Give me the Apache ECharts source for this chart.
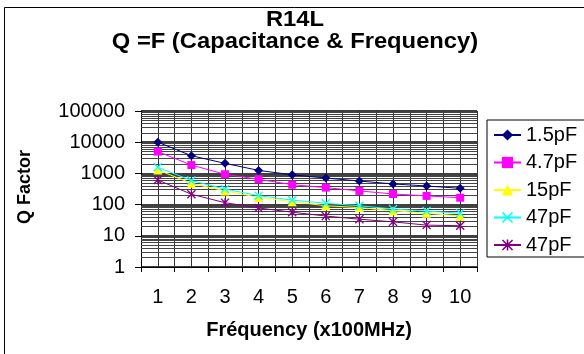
<!DOCTYPE html>
<html>
<head>
<meta charset="utf-8">
<script src="https://cdn.jsdelivr.net/npm/echarts@6/dist/echarts.min.js"></script>
<style>html,body{margin:0;padding:0;background:#fff}#c{width:584px;height:354px}</style>
</head>
<body>
<div id="c"></div>
<script>
const categories = ['1','2','3','4','5','6','7','8','9','10'];
const s15pF  = [10000, 3700, 2100, 1250, 900, 710, 570, 460, 395, 333];
const s47pF_a = [5000, 1850, 940, 650, 435, 350, 275, 219, 190, 166];
const s15  = [1290, 480, 275, 170, 124, 92, 80, 64, 53, 43];
const s47c = [1580, 590, 315, 193, 140, 110, 92, 72, 62, 53];
const s47p = [615, 215, 115, 78, 57, 43, 34, 28, 22, 21];
const seriesNames = ['1.5pF', '4.7pF', '15pF', '47pF', '47pF '];
const yTickLabels = ['1','10','100','1000','10000','100000'];

// minor log gridlines (2..9 within each decade)
const minorGrid = [];
for (let d = 1; d < 100000; d *= 10) {
  for (let k = 2; k <= 9; k++) minorGrid.push(d * k);
}

const FONT = '"Liberation Sans", Arial, sans-serif';
const xMark = 'path://M0,1L1,0L5,4L9,0L10,1L6,5L10,9L9,10L5,6L1,10L0,9L4,5Z';
const star = 'path://M0,1L1,0L5,4L9,0L10,1L6,5L10,9L9,10L5,6L1,10L0,9L4,5Z M4.3,0L5.7,0L5.7,10L4.3,10Z';

function mk(name, data, color, symbol, size) {
  return {
    name: name, type: 'line', data: data, xAxisIndex: 0, yAxisIndex: 0,
    symbol: symbol, symbolSize: size, showSymbol: true,
    lineStyle: { color: color, width: 1 },
    itemStyle: { color: color },
    emphasis: { disabled: true },
    z: 5
  };
}

const chart = echarts.init(document.getElementById('c'), null, { renderer: 'canvas' });
chart.setOption({
  animation: false,
  backgroundColor: '#fff',
  textStyle: { fontFamily: FONT },
  graphic: [
    { type: 'rect', shape: { x: 4.5, y: 7.5, width: 700, height: 500 }, style: { fill: 'none', stroke: '#000', lineWidth: 1 }, z: -10 },
    { type: 'text', x: 295, y: 20, scaleX: 1.08, style: { text: 'R14L', x: 0, y: 0, align: 'center', verticalAlign: 'middle', font: 'bold 22px ' + FONT, fill: '#000' } },
    { type: 'text', x: 295, y: 42, scaleX: 1.08, style: { text: 'Q =F (Capacitance & Frequency)', x: 0, y: 0, align: 'center', verticalAlign: 'middle', font: 'bold 22px ' + FONT, fill: '#000' } },
    { type: 'text', x: 25, y: 187, rotation: Math.PI / 2, style: { text: 'Q Factor', x: 0, y: 0, align: 'center', verticalAlign: 'middle', font: 'bold 18px ' + FONT, fill: '#000' } }
  ],
  grid: { left: 141, right: 107, top: 111, bottom: 87, containLabel: false },
  legend: {
    orient: 'vertical', left: 487, top: 120,
    padding: [5, 20, 2, 6],
    itemGap: 7.5, itemWidth: 27, itemHeight: 14,
    backgroundColor: '#fff', borderColor: '#000', borderWidth: 1,
    textStyle: { fontSize: 20, lineHeight: 20, color: '#000', fontFamily: FONT },
    data: seriesNames,
    formatter: n => n.trim()
  },
  xAxis: [
    {
      type: 'category', data: categories, boundaryGap: true,
      name: 'Fréquency (x100MHz)', nameLocation: 'middle', nameGap: 53,
      nameTextStyle: { fontSize: 20, fontWeight: 'bold', color: '#000', fontFamily: FONT },
      axisLine: { lineStyle: { color: '#000', width: 1 } },
      axisTick: { show: true, interval: 0, length: 5, lineStyle: { color: '#000' } },
      axisLabel: { fontSize: 20, color: '#000', margin: 20, interval: 0, fontFamily: FONT },
      splitLine: { show: false }
    },
    {
      type: 'value', min: 0.5, max: 10.5, interval: 0.5, position: 'bottom',
      axisLine: { show: false }, axisTick: { show: false }, axisLabel: { show: false },
      splitLine: { show: true, lineStyle: { color: '#333', width: 1 } }
    }
  ],
  yAxis: {
    type: 'log', logBase: 10, min: 1, max: 100000,
    axisLine: { show: true, lineStyle: { color: '#000' } },
    axisTick: { show: true, length: 6, lineStyle: { color: '#000' } },
    axisLabel: { fontSize: 20, color: '#000', margin: 16, fontFamily: FONT,
      formatter: v => { const s = String(Math.round(v)); return yTickLabels.indexOf(s) >= 0 ? s : ''; } },
    splitLine: { show: true, lineStyle: { color: '#000', width: 1.5 } },
    minorTick: { show: false }
  },
  series: [
    {
      name: 'grid', type: 'line', data: [], silent: true,
      markLine: {
        silent: true, symbol: 'none', animation: false,
        label: { show: false },
        lineStyle: { color: '#444', width: 1, type: 'solid' },
        emphasis: { disabled: true },
        data: minorGrid.map(v => ({ yAxis: v }))
      },
      z: 1
    },
    mk(seriesNames[0], s15pF, '#000080', 'diamond', 9),
    mk(seriesNames[1], s47pF_a, '#FF00FF', 'rect', 8),
    mk(seriesNames[2], s15, '#FFFF00', 'triangle', 9),
    mk(seriesNames[3], s47c, '#00FFFF', xMark, 9),
    mk(seriesNames[4], s47p, '#800080', star, 9)
  ]
});
</script>
</body>
</html>
